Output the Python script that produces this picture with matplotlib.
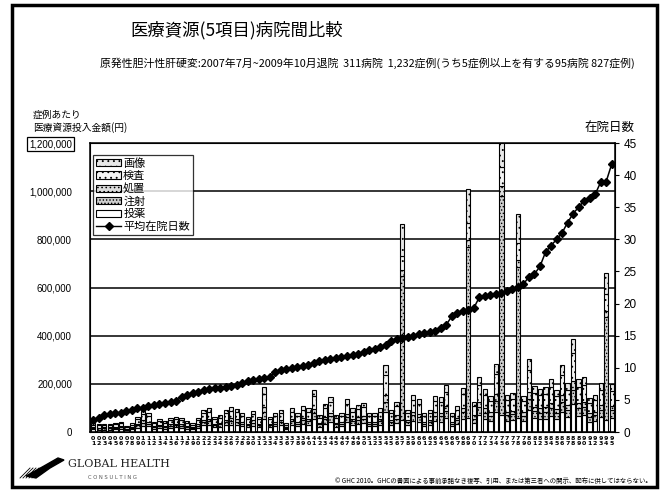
import matplotlib.pyplot as plt
from matplotlib.patches import Rectangle, Polygon, Patch
from matplotlib.lines import Line2D
import numpy as np

plt.rcParams['font.family'] = ['Noto Sans CJK JP', 'DejaVu Sans']
plt.rcParams['hatch.linewidth'] = 0.6

# 症例あたり医療資源投入金額(千円) 病院別・在院日数の短い順
gazo = [6, 5, 5, 6, 5, 6, 4, 6, 9, 13, 12, 6, 8, 7, 9, 9, 9, 7, 6, 9,
        14, 15, 9, 10, 14, 16, 14, 12, 9, 13,
        9, 28, 9, 12, 14, 6, 15, 12, 16, 15, 26, 10, 18, 22, 10, 12, 21, 15, 17, 18,
        12, 12, 15, 42, 14, 19, 130, 14, 23, 21, 12, 14,
        22, 22, 29, 12, 16, 27, 140, 19, 34, 27, 22, 42, 150, 23, 24, 120, 22, 46,
        29, 27, 28, 33, 26, 42, 31, 58, 33, 34, 21, 23, 31, 90, 30]
kensa = [11, 10, 11, 10, 12, 13, 8, 11, 19, 26, 24, 13, 16, 13, 17, 19, 17, 14, 11, 17,
         28, 30, 19, 21, 27, 31, 29, 24, 19, 26,
         19, 56, 19, 24, 28, 11, 30, 24, 32, 30, 53, 21, 35, 44, 21, 24, 41, 30, 34, 36,
         24, 24, 30, 84, 28, 37, 60, 28, 46, 41, 24, 28,
         45, 44, 59, 24, 32, 55, 70, 37, 69, 54, 45, 85, 80, 46, 49, 70, 45, 91,
         58, 54, 56, 66, 53, 84, 61, 116, 66, 69, 43, 46, 61, 70, 60]
shochi = [4, 3, 4, 3, 4, 4, 2, 4, 6, 9, 8, 4, 5, 5, 6, 6, 6, 4, 4, 6,
          9, 10, 6, 7, 9, 10, 10, 8, 6, 9,
          6, 19, 6, 8, 9, 4, 10, 8, 11, 10, 17, 7, 12, 15, 7, 8, 14, 10, 11, 12,
          8, 8, 10, 28, 9, 13, 25, 9, 15, 14, 8, 9,
          15, 15, 20, 8, 11, 18, 30, 13, 23, 18, 15, 28, 40, 15, 16, 30, 15, 30,
          19, 18, 19, 22, 17, 28, 20, 39, 22, 23, 14, 15, 20, 25, 20]
chusha = [5, 5, 5, 6, 5, 7, 4, 5, 10, 13, 12, 6, 8, 7, 9, 9, 9, 7, 5, 9,
          14, 15, 9, 11, 14, 16, 14, 12, 9, 13,
          9, 28, 9, 12, 14, 5, 15, 12, 16, 15, 26, 11, 17, 22, 10, 12, 20, 15, 17, 18,
          12, 12, 15, 42, 14, 19, 597, 14, 23, 20, 12, 14,
          23, 22, 29, 12, 16, 28, 708, 19, 34, 27, 23, 43, 910, 23, 24, 624, 23, 46,
          29, 27, 28, 33, 26, 42, 31, 58, 33, 34, 21, 23, 31, 427, 30]
toyaku = [11, 10, 10, 10, 11, 12, 7, 11, 18, 26, 23, 13, 17, 13, 17, 19, 17, 13, 11, 17,
          27, 30, 19, 21, 28, 31, 29, 23, 19, 26,
          19, 56, 19, 23, 27, 11, 30, 23, 33, 30, 53, 21, 35, 43, 22, 23, 41, 30, 33, 37,
          23, 23, 30, 83, 27, 37, 50, 27, 47, 41, 23, 27,
          45, 43, 59, 23, 33, 55, 60, 37, 69, 53, 45, 85, 70, 47, 49, 60, 45, 91,
          57, 53, 56, 67, 53, 83, 61, 116, 67, 69, 43, 47, 61, 50, 60]

# 平均在院日数
days = [1.9, 2.2, 2.6, 2.8, 3.0, 3.0, 3.2, 3.5, 3.7, 3.8,
        4.0, 4.2, 4.4, 4.5, 4.7, 4.9, 5.4, 5.8, 6.0, 6.3,
        6.6, 6.7, 6.8, 6.9, 7.0, 7.2, 7.3, 7.6, 7.9, 8.1,
        8.2, 8.4, 8.5, 9.4, 9.7, 9.8, 10.0, 10.1, 10.3, 10.5,
        10.7, 11.0, 11.2, 11.4, 11.6, 11.7, 11.8, 12.0, 12.2, 12.5,
        12.7, 13.0, 13.3, 13.6, 14.2, 14.5, 14.7, 14.8, 15.0, 15.2,
        15.4, 15.6, 15.8, 16.2, 16.7, 18.0, 18.5, 18.8, 19.0, 19.3,
        21.0, 21.2, 21.4, 21.5, 21.7, 21.9, 22.2, 22.6, 23.0, 24.2,
        24.6, 25.8, 28.0, 29.0, 30.0, 31.0, 32.6, 34.0, 35.0, 36.0,
        36.5, 37.0, 38.9, 39.0, 41.7]

hospitals = ['%02d' % (i + 1) for i in range(len(days))]
hosp_labels = [h[0] + '\n' + h[1] for h in hospitals]

series = [
    ('投薬', toyaku, 'white', None),
    ('注射', chusha, '#cfcfcf', '.....'),
    ('処置', shochi, '#dcdcdc', '....'),
    ('検査', kensa, '#f4f4f4', '...'),
    ('画像', gazo, '#e8e8e8', '...'),
]

W, H = 666, 490
fig = plt.figure(figsize=(W / 100, H / 100), dpi=100)

ax = fig.add_axes([90 / W, 1 - 432 / H, 525 / W, 289 / H])
x = np.arange(len(days))
bottom = np.zeros(len(days))
handles = {}
for name, vals, fc, hatch in series:
    v = np.array(vals) * 1000
    ax.bar(x, v, 0.78, bottom=bottom, color=fc, edgecolor='black',
           linewidth=0.8, hatch=hatch, zorder=2)
    handles[name] = Patch(facecolor=fc, edgecolor='black', linewidth=0.8, hatch=hatch)
    bottom += v

ax.set_xlim(-0.6, len(days) - 0.4)
ax.set_ylim(0, 1200000)
yt = list(range(0, 1200001, 200000))
ax.set_yticks(yt, ['0' if t == 0 else f'{t:,}' for t in yt],
              family='Liberation Sans', fontsize=7)
ax.tick_params(axis='y', length=0, pad=13)
ax.yaxis.grid(True, color='black', linewidth=1.1, zorder=1)
ax.set_axisbelow(True)
ax.set_xticks(x, hosp_labels, fontsize=4.5, linespacing=0.95,
              fontweight='bold', family='DejaVu Sans')
ax.tick_params(axis='x', length=0, pad=3)
for s in ax.spines.values():
    s.set_linewidth(1.1)
ax.get_yticklabels()[-1].set_bbox(dict(facecolor='none', edgecolor='black',
                                       linewidth=0.9, pad=1.2))

ax2 = ax.twinx()
ax2.plot(x, days, color='black', linewidth=1.1, marker='D', markersize=3.8,
         markerfacecolor='black', zorder=5)
ax2.set_ylim(0, 45)
ax2.set_yticks(range(0, 46, 5), [str(t) for t in range(0, 46, 5)],
               family='Liberation Sans', fontsize=8.5)
ax2.tick_params(axis='y', length=3, width=0.8, pad=3)

order = ['画像', '検査', '処置', '注射', '投薬']
leg_h = [handles[n] for n in order] + [Line2D([], [], color='black', lw=1,
                                              marker='D', markersize=3.6)]
leg = ax.legend(leg_h, order + ['平均在院日数'], loc='upper left',
                bbox_to_anchor=(0.006, 0.96), borderaxespad=0, fontsize=8,
                frameon=True, fancybox=False, edgecolor='black',
                handlelength=2.2, handleheight=0.6, handletextpad=0.2,
                labelspacing=0.2, borderpad=0.3)
leg.get_frame().set_linewidth(0.9)
leg.set_zorder(10)

# タイトル・注記
fig.text(237 / W, 1 - 30 / H, '医療資源(5項目)病院間比較', fontsize=12.5,
         ha='center', va='center')
fig.text(100 / W, 1 - 63 / H,
         '原発性胆汁性肝硬変:2007年7月~2009年10月退院  311病院  '
         '1,232症例(うち5症例以上を有する95病院 827症例)',
         fontsize=7.8, ha='left', va='center')
fig.text(33 / W, 1 - 115 / H, '症例あたり', fontsize=7, va='center')
fig.text(33 / W, 1 - 128 / H, '医療資源投入金額(円)', fontsize=7, va='center')
fig.text(635 / W, 1 - 127 / H, '在院日数', fontsize=9, ha='right', va='center')

# ロゴ
fig.text(68 / W, 1 - 464 / H, 'GLOBAL HEALTH', family='DejaVu Serif',
         fontsize=8, va='center', color='#222222')
fig.text(88 / W, 1 - 477 / H, 'C O N S U L T I N G', family='DejaVu Sans',
         fontsize=3.8, va='center', color='#555555')
tf = fig.transFigure
bird = [(26, 476), (44, 466), (58, 458), (64, 460), (50, 468), (36, 478)]
fig.add_artist(Polygon([(px / W, 1 - py / H) for px, py in bird], closed=True,
                       facecolor='black', edgecolor='black', transform=tf))
for k in range(5):
    fig.add_artist(Line2D([(20 + 3 * k) / W, (30 + 3 * k) / W],
                          [1 - 478 / H, 1 - 468 / H], color='black',
                          linewidth=0.6, transform=tf))

fig.text(652 / W, 1 - 481 / H,
         '© GHC 2010。GHCの書面による事前承諾なき複写、引用、'
         'または第三者への開示、配布に供してはならない。',
         fontsize=4.6, ha='right', va='center')

# 外枠
fig.add_artist(Rectangle((12 / W, 3 / H), 645 / W, 482 / H, fill=False,
                         edgecolor='black', linewidth=2.5, transform=tf))

fig.savefig('out.png', dpi=100)
